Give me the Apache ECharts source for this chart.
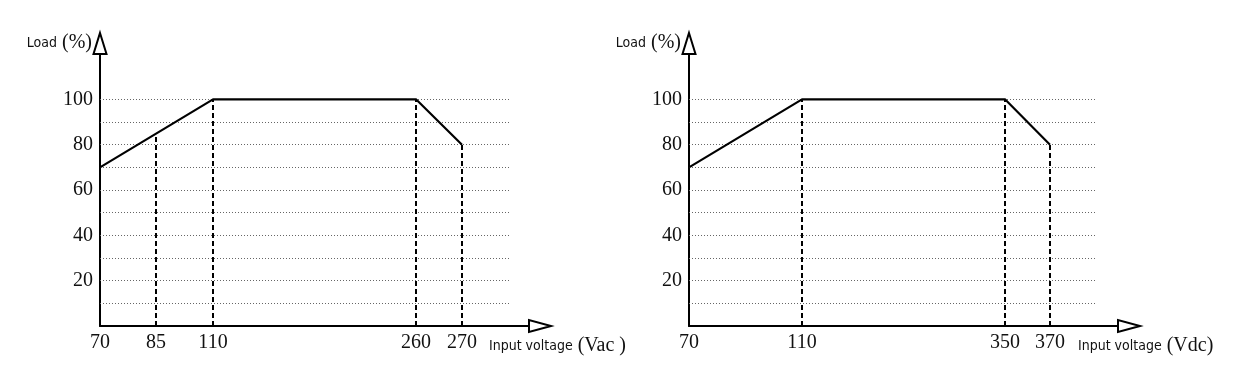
<!DOCTYPE html>
<html><head><meta charset="utf-8">
<script src="https://cdn.jsdelivr.net/npm/echarts@6/dist/echarts.min.js"></script>
<style>html,body{margin:0;padding:0;background:#fff}#c{width:1239px;height:373px}</style>
</head><body><div id="c"></div><script>
// ---- data ----
const yTicks = [20, 40, 60, 80, 100];
const gridLevels = [10, 20, 30, 40, 50, 60, 70, 80, 90, 100];
const acTicks = [70, 85, 110, 260, 270];
const acCurve = [[70, 70], [110, 100], [260, 100], [270, 80]];
const acDrops = [[85, 84], [110, 100], [260, 100], [270, 80]];
const dcTicks = [70, 110, 350, 370];
const dcCurve = [[70, 70], [110, 100], [350, 100], [370, 80]];
const dcDrops = [[110, 100], [350, 100], [370, 80]];
const yName = 'Load';
const xName = 'Input voltage';
const acUnit = '(Vac )';
const dcUnit = '(Vdc)';

// ---- layout (schematic, non-proportional voltage axis) ----
const AXIS_LEN = 429;
const acSlots = [0, 56, 113, 316, 362];
const dcSlots = [0, 113, 316, 361];
const acGridEnd = 410, dcGridEnd = 406;

function makeScale(ticks, slots) {
  return function (v) {
    for (let i = 0; i < ticks.length - 1; i++) {
      if (v >= ticks[i] && v <= ticks[i + 1]) {
        return slots[i] + (v - ticks[i]) / (ticks[i + 1] - ticks[i]) * (slots[i + 1] - slots[i]);
      }
    }
    return slots[slots.length - 1];
  };
}

const serif = 'Liberation Serif';
const sans = '"DejaVu Sans Condensed", "DejaVu Sans"';
const grids = [], xAxes = [], yAxes = [], series = [];

function panel(idx, left, ticks, slots, curve, drops, gridEnd, unit) {
  const pos = makeScale(ticks, slots);
  const labelMap = {};
  ticks.forEach(t => { labelMap[Math.round(pos(t))] = String(t); });
  grids.push({ left: left, top: 54, width: AXIS_LEN, height: 272, containLabel: false, outerBoundsMode: 'none' });
  xAxes.push({
    gridIndex: idx, type: 'value', min: 0, max: AXIS_LEN,
    axisLine: { show: true, onZero: false, lineStyle: { color: '#000', width: 2 },
      symbol: ['none', 'emptyTriangle'], symbolSize: [12, 22], symbolOffset: [0, 11] },
    axisTick: { show: false }, splitLine: { show: false },
    axisLabel: { customValues: ticks.map(pos), formatter: v => labelMap[Math.round(v)] || '',
      color: '#111', fontFamily: serif, fontSize: 20, margin: 7, showMinLabel: true, showMaxLabel: true },
    name: '{a|' + xName + '}{b| ' + unit + '}',
    nameLocation: 'end', nameGap: -40, nameMoveOverlap: false,
    nameTextStyle: { align: 'left', verticalAlign: 'middle', padding: [40, 0, 0, 0],
      rich: { a: { fontFamily: sans, fontSize: 14, color: '#111' }, b: { fontFamily: serif, fontSize: 20, color: '#111' } } }
  });
  yAxes.push({
    gridIndex: idx, type: 'value', min: 0, max: 120, interval: 20,
    axisLine: { show: true, onZero: false, lineStyle: { color: '#000', width: 2 },
      symbol: ['none', 'emptyTriangle'], symbolSize: [13, 21], symbolOffset: [0, 10.5] },
    axisTick: { show: false }, splitLine: { show: false },
    axisLabel: { formatter: v => yTicks.includes(v) ? String(v) : '', color: '#111', fontFamily: serif, fontSize: 20, margin: 7 },
    name: '{a|' + yName + '}{b| (%)}', nameLocation: 'end', nameGap: 11, nameMoveOverlap: false,
    nameTextStyle: { align: 'right', verticalAlign: 'middle', padding: [0, 8, 0, 0],
      rich: { a: { fontFamily: sans, fontSize: 14, color: '#111' }, b: { fontFamily: serif, fontSize: 20, color: '#111' } } }
  });
  series.push({
    type: 'line', xAxisIndex: idx, yAxisIndex: idx, data: [], silent: true, z: 1,
    markLine: { silent: true, symbol: ['none', 'none'], label: { show: false }, emphasis: { disabled: true },
      lineStyle: { color: '#666', type: [1, 2], width: 1 },
      data: gridLevels.map(g => [{ coord: [0, g] }, { coord: [gridEnd, g] }]) }
  });
  series.push({
    type: 'line', xAxisIndex: idx, yAxisIndex: idx, data: [], silent: true, z: 3,
    markLine: { silent: true, symbol: ['none', 'none'], label: { show: false }, emphasis: { disabled: true },
      lineStyle: { color: '#000', type: [5, 3], width: 2 },
      data: drops.map(([v, l]) => [{ coord: [pos(v), 0] }, { coord: [pos(v), l] }]) }
  });
  series.push({
    type: 'line', xAxisIndex: idx, yAxisIndex: idx, silent: true, z: 5, symbol: 'none',
    lineStyle: { color: '#000', width: 2.2 },
    data: curve.map(([v, l]) => [pos(v), l])
  });
}

panel(0, 100, acTicks, acSlots, acCurve, acDrops, acGridEnd, acUnit);
panel(1, 689, dcTicks, dcSlots, dcCurve, dcDrops, dcGridEnd, dcUnit);

const chart = echarts.init(document.getElementById('c'), null, { renderer: 'canvas' });
chart.setOption({
  animation: false, backgroundColor: '#fff',
  grid: grids, xAxis: xAxes, yAxis: yAxes, series: series
});
</script></body></html>
